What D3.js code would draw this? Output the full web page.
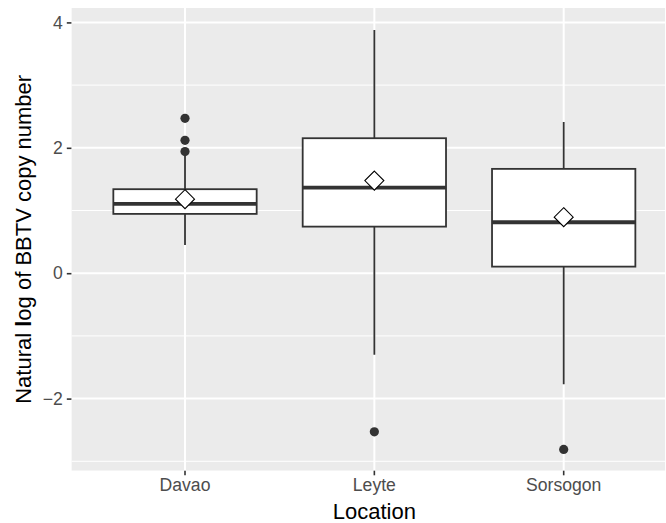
<!DOCTYPE html>
<html>
<head>
<meta charset="utf-8">
<script src="https://cdn.jsdelivr.net/npm/d3@7"></script>
<style>
  body { margin: 0; background: #fff; }
  svg { display: block; font-family: "Liberation Sans", Arial, Helvetica, sans-serif; }
</style>
</head>
<body>
<svg id="chart" width="666" height="523"></svg>
<script>
// ---- data ----
const categories   = ["Davao", "Leyte", "Sorsogon"];
const lowerWhisker = [0.45, -1.30, -1.77];
const q1           = [0.946, 0.743, 0.105];
const medians      = [1.105, 1.365, 0.813];
const q3           = [1.34, 2.153, 1.664];
const upperWhisker = [1.90, 3.88, 2.41];
const means        = [1.18, 1.477, 0.893];
const outliers     = [[2.47, 2.12, 1.94], [-2.53], [-2.81]];
const yTicks       = [-2, 0, 2, 4];
const yMinor       = [-3, -1, 1, 3];
const xTitle = "Location";
const yTitle = "Natural log of BBTV copy number";

// ---- layout ----
const svg = d3.select("#chart");
const panel = { left: 71.4, right: 665.3, top: 8, bottom: 470.7, fullRight: 677.3 };

const x = d3.scaleBand().domain(categories)
  .range([panel.left, panel.fullRight]).paddingInner(0).paddingOuter(0.1);
const y = d3.scaleLinear().domain([-3.15, 4.23]).range([panel.bottom, panel.top]);
const cx = c => x(c) + x.bandwidth() / 2;
const boxW = x.bandwidth() * 0.757;

svg.append("defs").append("clipPath").attr("id", "clip")
  .append("rect").attr("x", panel.left).attr("y", panel.top)
  .attr("width", panel.right - panel.left).attr("height", panel.bottom - panel.top);

const g = svg.append("g").attr("clip-path", "url(#clip)");
g.append("rect").attr("x", panel.left).attr("y", panel.top)
  .attr("width", panel.right - panel.left).attr("height", panel.bottom - panel.top)
  .attr("fill", "#EBEBEB");

// grid
g.selectAll(".minor").data(yMinor).join("line")
  .attr("x1", panel.left).attr("x2", panel.fullRight)
  .attr("y1", d => y(d)).attr("y2", d => y(d))
  .attr("stroke", "#fff").attr("stroke-width", 1);
g.selectAll(".major").data(yTicks).join("line")
  .attr("x1", panel.left).attr("x2", panel.fullRight)
  .attr("y1", d => y(d)).attr("y2", d => y(d))
  .attr("stroke", "#fff").attr("stroke-width", 2);
g.selectAll(".xmajor").data(categories).join("line")
  .attr("x1", d => cx(d)).attr("x2", d => cx(d))
  .attr("y1", panel.top).attr("y2", panel.bottom)
  .attr("stroke", "#fff").attr("stroke-width", 2);

const col = "#333333";
const data = categories.map((c, i) => ({
  c, lo: lowerWhisker[i], q1: q1[i], med: medians[i], q3: q3[i],
  hi: upperWhisker[i], mean: means[i], out: outliers[i]
}));

const box = g.selectAll(".box").data(data).join("g");
// whiskers
box.append("line").attr("x1", d => cx(d.c)).attr("x2", d => cx(d.c))
  .attr("y1", d => y(d.q3)).attr("y2", d => y(d.hi))
  .attr("stroke", col).attr("stroke-width", 1.8);
box.append("line").attr("x1", d => cx(d.c)).attr("x2", d => cx(d.c))
  .attr("y1", d => y(d.q1)).attr("y2", d => y(d.lo))
  .attr("stroke", col).attr("stroke-width", 1.8);
// box
box.append("rect").attr("x", d => cx(d.c) - boxW / 2).attr("width", boxW)
  .attr("y", d => y(d.q3)).attr("height", d => y(d.q1) - y(d.q3))
  .attr("fill", "#fff").attr("stroke", col).attr("stroke-width", 1.8);
// median
box.append("line").attr("x1", d => cx(d.c) - boxW / 2).attr("x2", d => cx(d.c) + boxW / 2)
  .attr("y1", d => y(d.med)).attr("y2", d => y(d.med))
  .attr("stroke", col).attr("stroke-width", 3.8);
// outliers
box.selectAll("circle").data(d => d.out.map(v => ({ c: d.c, v }))).join("circle")
  .attr("cx", d => cx(d.c)).attr("cy", d => y(d.v)).attr("r", 4.6)
  .attr("fill", col);
// mean diamonds
const dm = 9.5;
box.append("path")
  .attr("d", d => {
    const px = cx(d.c), py = y(d.mean);
    return `M${px},${py - dm}L${px + dm},${py}L${px},${py + dm}L${px - dm},${py}Z`;
  })
  .attr("fill", "#fff").attr("stroke", "#000").attr("stroke-width", 1.1);

// axes
const yAxis = svg.append("g").attr("transform", `translate(${panel.left},0)`)
  .call(d3.axisLeft(y).tickValues(yTicks).tickSize(4.6).tickPadding(4)
    .tickFormat(d => d < 0 ? "\u2212" + Math.abs(d) : String(d)));
yAxis.select(".domain").remove();
yAxis.selectAll("line").attr("stroke", col).attr("stroke-width", 1.6);
yAxis.selectAll("text").attr("fill", "#4D4D4D").attr("font-size", "17.6px")
  .attr("font-family", "'Liberation Sans', Arial, sans-serif");

const xAxis = svg.append("g").attr("transform", `translate(0,${panel.bottom})`)
  .call(d3.axisBottom(x).tickSize(4.6).tickPadding(3));
xAxis.select(".domain").remove();
xAxis.selectAll("line").attr("stroke", col).attr("stroke-width", 1.6);
xAxis.selectAll("text").attr("fill", "#4D4D4D").attr("font-size", "17.6px")
  .attr("font-family", "'Liberation Sans', Arial, sans-serif");

// titles
svg.append("text").attr("x", cx(categories[1])).attr("y", 518.5)
  .attr("text-anchor", "middle").attr("font-size", "22px").attr("fill", "#000")
  .text(xTitle);

const yt = svg.append("text")
  .attr("transform", `translate(31,${(panel.top + panel.bottom) / 2}) rotate(-90)`)
  .attr("text-anchor", "middle").attr("font-size", "22px").attr("fill", "#000");
yt.append("tspan").text("Natural ");
yt.append("tspan").attr("font-weight", "bold").text("l");
yt.append("tspan").text(yTitle.slice(9));
</script>
</body>
</html>
